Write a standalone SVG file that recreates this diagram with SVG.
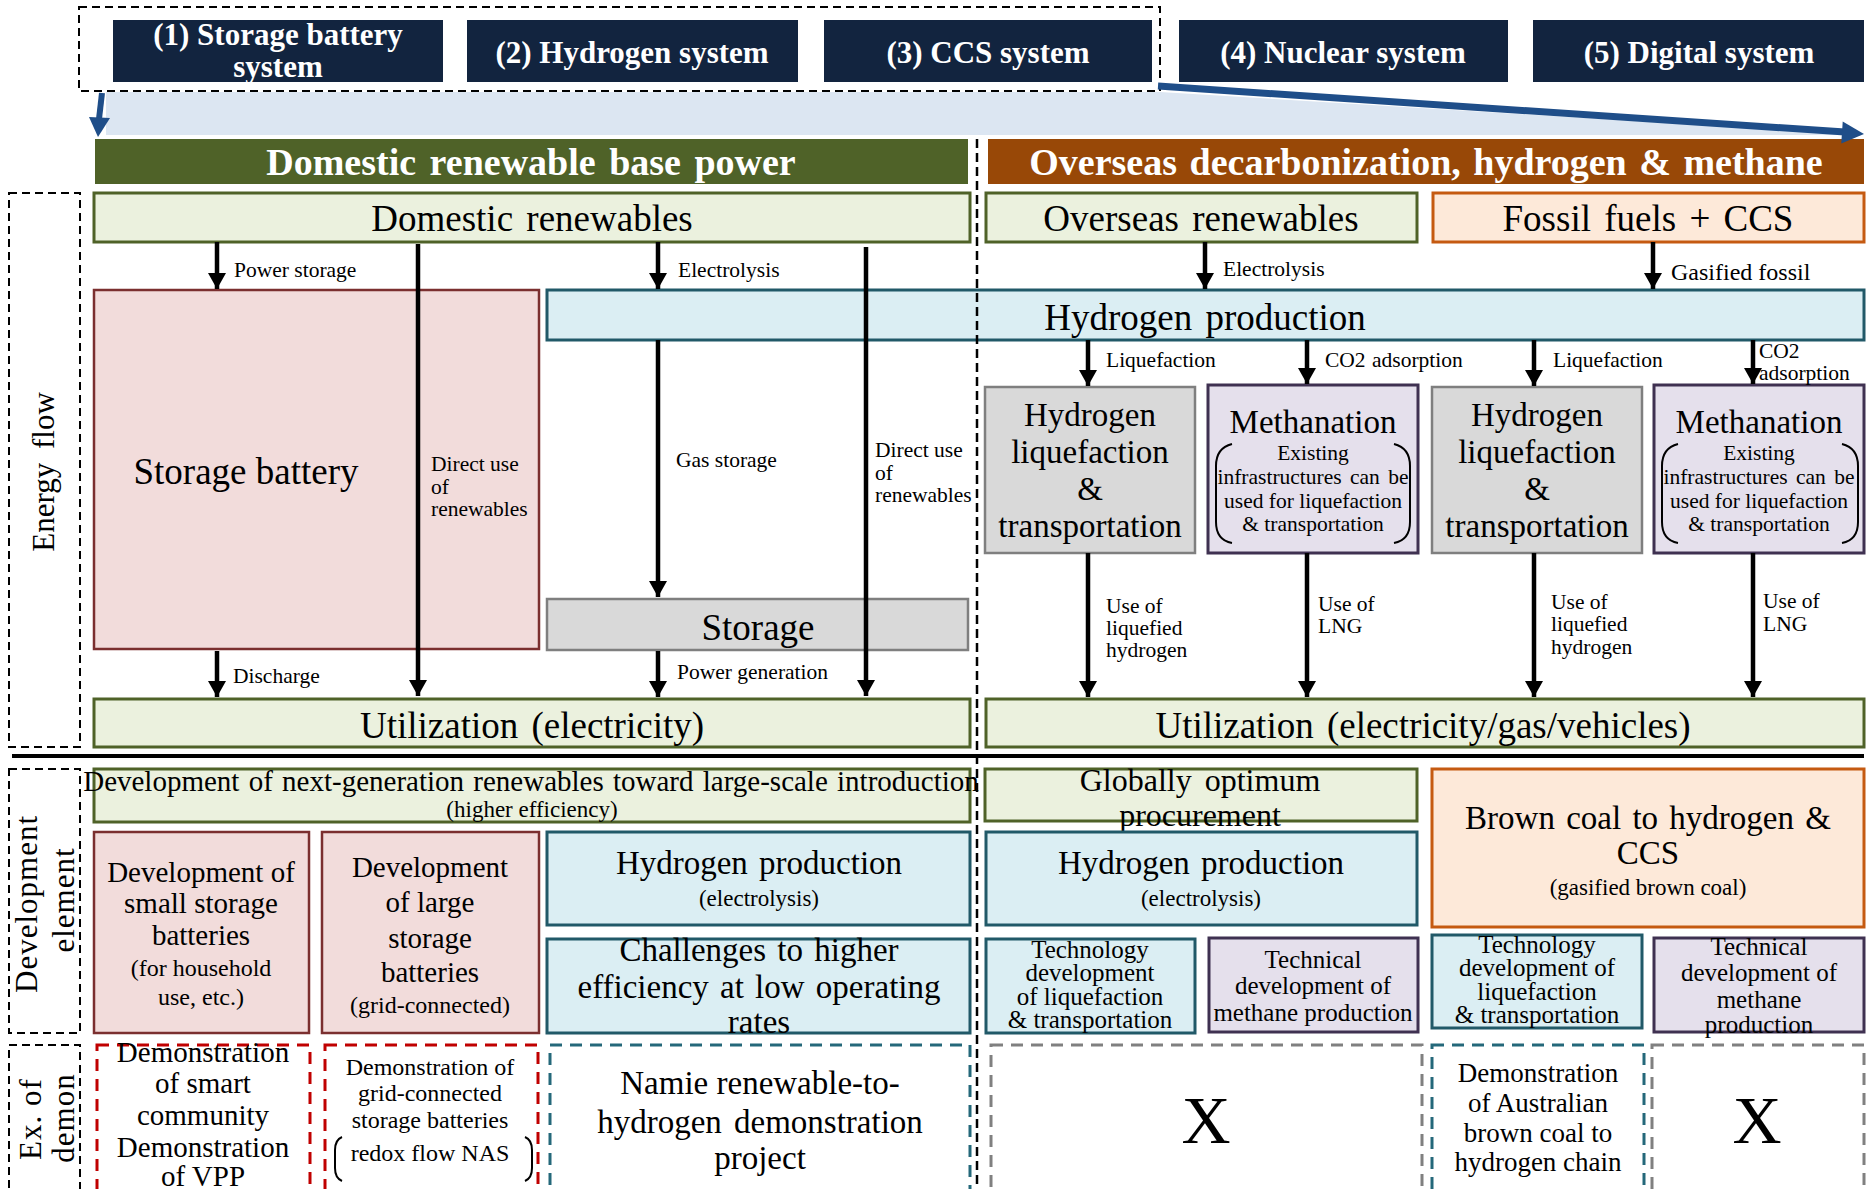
<svg xmlns="http://www.w3.org/2000/svg" width="1866" height="1189" viewBox="0 0 1866 1189">
<style>
text{font-family:"Liberation Serif","Times New Roman",serif;fill:#000}
.c{text-anchor:middle}
.hw{font-weight:bold;fill:#fff}
.navy{fill:#12243f}
.g{fill:#ebf1de;stroke:#4f6228;stroke-width:3}
.pk{fill:#f2dcdb;stroke:#7b2f2f;stroke-width:2.5}
.bl{fill:#dbeef3;stroke:#215968;stroke-width:3}
.gr{fill:#d9d9d9;stroke:#7f7f7f;stroke-width:2.5}
.pu{fill:#e5e0ec;stroke:#3f3151;stroke-width:3}
.or{fill:#fde9d9;stroke:#c55a11;stroke-width:3}
.dk{fill:none;stroke:#000;stroke-width:2;stroke-dasharray:8 5}
.dr{fill:none;stroke:#c00000;stroke-width:3;stroke-dasharray:12 8}
.dt{fill:none;stroke:#24687a;stroke-width:3;stroke-dasharray:12 8}
.dg{fill:none;stroke:#808080;stroke-width:3;stroke-dasharray:12 8}
.a{stroke:#000;stroke-width:4.5;fill:none;marker-end:url(#ah)}
.br{fill:none;stroke:#000;stroke-width:2}
.f21{font-size:21.5px}.f23{font-size:23px}.f24{font-size:24px}.f25{font-size:25px}.f27{font-size:27px}
.f29{font-size:29px}.f31{font-size:31px}.f33{font-size:33px}.f37{font-size:37px}
</style>
<defs>
<marker id="ah" viewBox="0 0 16 18" refX="16" refY="9" markerWidth="16" markerHeight="18" markerUnits="userSpaceOnUse" orient="auto">
<path d="M0,0 L16,9 L0,18 z" fill="#000"/>
</marker>
</defs>

<!-- top band and system boxes -->
<g id="band">
<polygon points="106,92 1160,92 1862,135 106,135" fill="#dce6f2"/>
</g>
<g id="systems">
<rect x="79" y="7" width="1081" height="84" class="dk"/>
<g id="sys1"><rect x="113" y="20" width="330" height="62" class="navy"/>
<text x="278" y="45" class="c hw" font-size="31">(1) Storage battery</text>
<text x="278" y="77" class="c hw" font-size="31">system</text></g>
<g id="sys2"><rect x="467" y="20" width="331" height="62" class="navy"/>
<text x="632" y="63" class="c hw" font-size="31">(2) Hydrogen system</text></g>
<g id="sys3"><rect x="824" y="20" width="328" height="62" class="navy"/>
<text x="988" y="63" class="c hw" font-size="31">(3) CCS system</text></g>
<g id="sys4"><rect x="1179" y="20" width="329" height="62" class="navy"/>
<text x="1343" y="63" class="c hw" font-size="31">(4) Nuclear system</text></g>
<g id="sys5"><rect x="1533" y="20" width="331" height="62" class="navy"/>
<text x="1699" y="63" class="c hw" font-size="31">(5) Digital system</text></g>
</g>
<g id="header-domestic"><rect x="95" y="139" width="873" height="45" fill="#4f6228"/>
<text x="531" y="175" class="c hw" font-size="38" word-spacing="4">Domestic renewable base power</text></g>
<g id="header-overseas"><rect x="988" y="139" width="876" height="45" fill="#984807"/>
<text x="1426" y="175" class="c hw" font-size="38" word-spacing="3">Overseas decarbonization, hydrogen &amp; methane</text></g>

<!-- energy flow -->
<g id="lbl-energy"><rect x="9" y="193" width="71" height="554" class="dk"/>
<text transform="translate(54,472) rotate(-90)" class="c f31" word-spacing="6">Energy flow</text></g>
<g id="domestic-renewables"><rect x="94" y="193" width="876" height="49" class="g"/>
<text x="532" y="231" class="c f37" word-spacing="4">Domestic renewables</text></g>
<g id="overseas-renewables"><rect x="986" y="193" width="431" height="49" class="g"/>
<text x="1201" y="231" class="c f37" word-spacing="4">Overseas renewables</text></g>
<g id="fossil-ccs"><rect x="1433" y="193" width="431" height="49" class="or"/>
<text x="1648" y="231" class="c f37" word-spacing="4">Fossil fuels + CCS</text></g>
<g id="storage-battery"><rect x="94" y="290" width="445" height="359" class="pk"/>
<text x="246" y="484" class="c f37">Storage battery</text></g>
<g id="hydrogen-production"><rect x="547" y="290" width="1317" height="50" class="bl"/>
<text x="1205" y="330" class="c f37" word-spacing="4">Hydrogen production</text></g>
<g id="storage"><rect x="547" y="599" width="421" height="51" class="gr"/>
<text x="758" y="640" class="c f37">Storage</text></g>
<g id="util-electricity"><rect x="94" y="699" width="876" height="48" class="g"/>
<text x="532" y="738" class="c f37" word-spacing="4">Utilization (electricity)</text></g>
<g id="util-all"><rect x="986" y="699" width="878" height="48" class="g"/>
<text x="1423" y="738" class="c f37" word-spacing="4">Utilization (electricity/gas/vehicles)</text></g>
<g id="h2liq1"><rect x="985" y="387" width="210" height="166" class="gr"/>
<text x="1090" y="426" class="c f33">Hydrogen</text><text x="1090" y="463" class="c f33">liquefaction</text>
<text x="1090" y="500" class="c f33">&amp;</text><text x="1090" y="537" class="c f33">transportation</text></g>
<g id="meth1"><rect x="1208" y="385" width="210" height="168" class="pu"/>
<text x="1313" y="433" class="c f33">Methanation</text>
<text x="1313" y="460" class="c f21">Existing</text><text x="1313" y="484" class="c f21" word-spacing="3">infrastructures can be</text>
<text x="1313" y="508" class="c f21">used for liquefaction</text><text x="1313" y="531" class="c f21">&amp; transportation</text>
<path class="br" d="M1232,444 Q1216,448 1216,466 L1216,522 Q1216,540 1232,543"/>
<path class="br" d="M1394,444 Q1410,448 1410,466 L1410,522 Q1410,540 1394,543"/></g>
<g id="h2liq2"><rect x="1432" y="387" width="210" height="166" class="gr"/>
<text x="1537" y="426" class="c f33">Hydrogen</text><text x="1537" y="463" class="c f33">liquefaction</text>
<text x="1537" y="500" class="c f33">&amp;</text><text x="1537" y="537" class="c f33">transportation</text></g>
<g id="meth2"><rect x="1654" y="385" width="210" height="168" class="pu"/>
<text x="1759" y="433" class="c f33">Methanation</text>
<text x="1759" y="460" class="c f21">Existing</text><text x="1759" y="484" class="c f21" word-spacing="3">infrastructures can be</text>
<text x="1759" y="508" class="c f21">used for liquefaction</text><text x="1759" y="531" class="c f21">&amp; transportation</text>
<path class="br" d="M1678,444 Q1662,448 1662,466 L1662,522 Q1662,540 1678,543"/>
<path class="br" d="M1842,444 Q1858,448 1858,466 L1858,522 Q1858,540 1842,543"/></g>

<!-- development elements -->
<g id="lbl-dev"><rect x="9" y="769" width="71" height="264" class="dk"/>
<text transform="translate(37,904) rotate(-90)" class="c f31" letter-spacing="1">Development</text>
<text transform="translate(74,900) rotate(-90)" class="c f31" letter-spacing="1">element</text></g>
<g id="dev-nextgen"><rect x="94" y="769" width="876" height="53" class="g"/>
<text x="531" y="791" class="c" font-size="29" word-spacing="2">Development of next-generation renewables toward large-scale introduction</text>
<text x="532" y="817" class="c f23">(higher efficiency)</text></g>
<g id="dev-small"><rect x="94" y="832" width="215" height="201" class="pk"/>
<text x="201" y="882" class="c f29">Development of</text><text x="201" y="913" class="c f29">small storage</text>
<text x="201" y="945" class="c f29">batteries</text><text x="201" y="976" class="c f24">(for household</text>
<text x="201" y="1005" class="c f24">use, etc.)</text></g>
<g id="dev-large"><rect x="322" y="832" width="217" height="201" class="pk"/>
<text x="430" y="877" class="c f29">Development</text><text x="430" y="912" class="c f29">of large</text>
<text x="430" y="948" class="c f29">storage</text><text x="430" y="982" class="c f29">batteries</text>
<text x="430" y="1013" class="c f24">(grid-connected)</text></g>
<g id="dev-h2prod"><rect x="547" y="832" width="423" height="93" class="bl"/>
<text x="759" y="874" class="c f33" word-spacing="3">Hydrogen production</text>
<text x="759" y="906" class="c f23">(electrolysis)</text></g>
<g id="dev-challenges"><rect x="547" y="939" width="423" height="94" class="bl"/>
<text x="759" y="961" class="c f33" word-spacing="3">Challenges to higher</text>
<text x="759" y="998" class="c f33" word-spacing="3">efficiency at low operating</text>
<text x="759" y="1033" class="c f33">rates</text></g>
<g id="dev-global"><rect x="985" y="769" width="432" height="52" class="g"/>
<text x="1200" y="791" class="c" font-size="32" word-spacing="5">Globally optimum</text>
<text x="1200" y="826" class="c" font-size="32">procurement</text></g>
<g id="dev-h2prod2"><rect x="986" y="832" width="431" height="93" class="bl"/>
<text x="1201" y="874" class="c f33" word-spacing="3">Hydrogen production</text>
<text x="1201" y="906" class="c f23">(electrolysis)</text></g>
<g id="dev-browncoal"><rect x="1432" y="769" width="432" height="158" class="or"/>
<text x="1648" y="829" class="c f33" word-spacing="3">Brown coal to hydrogen &amp;</text>
<text x="1648" y="864" class="c f33">CCS</text>
<text x="1648" y="895" class="c f23">(gasified brown coal)</text></g>
<g id="dev-liq1"><rect x="986" y="939" width="209" height="94" class="bl"/>
<text x="1090" y="958" class="c f25">Technology</text><text x="1090" y="981" class="c f25">development</text>
<text x="1090" y="1005" class="c f25">of liquefaction</text><text x="1090" y="1028" class="c f25">&amp; transportation</text></g>
<g id="dev-meth1"><rect x="1209" y="938" width="209" height="94" class="pu"/>
<text x="1313" y="968" class="c f25">Technical</text><text x="1313" y="994" class="c f25">development of</text>
<text x="1313" y="1021" class="c f25">methane production</text></g>
<g id="dev-liq2"><rect x="1432" y="935" width="210" height="93" class="bl"/>
<text x="1537" y="953" class="c f25">Technology</text><text x="1537" y="976" class="c f25">development of</text>
<text x="1537" y="1000" class="c f25">liquefaction</text><text x="1537" y="1023" class="c f25">&amp; transportation</text></g>
<g id="dev-meth2"><rect x="1654" y="938" width="210" height="94" class="pu"/>
<text x="1759" y="955" class="c f25">Technical</text><text x="1759" y="981" class="c f25">development of</text>
<text x="1759" y="1008" class="c f25">methane</text><text x="1759" y="1033" class="c f25">production</text></g>

<!-- demonstrations -->
<g id="lbl-demo"><rect x="9" y="1045" width="71" height="150" class="dk"/>
<text transform="translate(41,1119) rotate(-90)" class="c f31" letter-spacing="1">Ex. of</text>
<text transform="translate(74,1118) rotate(-90)" class="c f31" letter-spacing="1">demon</text></g>
<g id="demo-smart"><rect x="97" y="1045" width="213" height="150" class="dr"/>
<text x="203" y="1062" class="c f29">Demonstration</text><text x="203" y="1093" class="c f29">of smart</text>
<text x="203" y="1125" class="c f29">community</text><text x="203" y="1157" class="c f29">Demonstration</text>
<text x="203" y="1186" class="c f29">of VPP</text></g>
<g id="demo-grid"><rect x="325" y="1045" width="213" height="150" class="dr"/>
<text x="430" y="1075" class="c f24">Demonstration of</text><text x="430" y="1101" class="c f24">grid-connected</text>
<text x="430" y="1128" class="c f24">storage batteries</text><text x="430" y="1161" class="c f24">redox flow NAS</text>
<path class="br" d="M342,1137 Q335,1140 335,1150 L335,1168 Q335,1178 342,1181"/>
<path class="br" d="M525,1137 Q532,1140 532,1150 L532,1168 Q532,1178 525,1181"/></g>
<g id="demo-namie"><rect x="550" y="1045" width="420" height="150" class="dt"/>
<text x="760" y="1094" class="c f33">Namie renewable-to-</text>
<text x="760" y="1133" class="c f33" word-spacing="4">hydrogen demonstration</text>
<text x="760" y="1169" class="c f33">project</text></g>
<g id="demo-x1"><rect x="991" y="1045" width="431" height="150" class="dg"/>
<text x="1206" y="1143" class="c" font-size="68">X</text></g>
<g id="demo-australia"><rect x="1432" y="1045" width="212" height="150" class="dt"/>
<text x="1538" y="1082" class="c f27">Demonstration</text><text x="1538" y="1112" class="c f27">of Australian</text>
<text x="1538" y="1142" class="c f27">brown coal to</text><text x="1538" y="1171" class="c f27">hydrogen chain</text></g>
<g id="demo-x2"><rect x="1652" y="1045" width="212" height="150" class="dg"/>
<text x="1757" y="1143" class="c" font-size="68">X</text></g>

<!-- connectors -->
<g id="connectors">
<line x1="102" y1="93" x2="99" y2="119" stroke="#1f4e89" stroke-width="6"/>
<polygon points="89,117 110,118 98,137" fill="#1f4e89"/>
<line x1="1158" y1="86" x2="1845" y2="132" stroke="#1f4e89" stroke-width="7"/>
<polygon points="1864,134 1842.7,121.5 1841.3,143.5" fill="#1f4e89"/>
<line class="a" x1="217" y1="242" x2="217" y2="289"/>
<line class="a" x1="418" y1="244" x2="418" y2="696"/>
<line class="a" x1="658" y1="242" x2="658" y2="289"/>
<line class="a" x1="866" y1="247" x2="866" y2="696"/>
<line class="a" x1="658" y1="340" x2="658" y2="597"/>
<line class="a" x1="217" y1="651" x2="217" y2="697"/>
<line class="a" x1="658" y1="651" x2="658" y2="697"/>
<line class="a" x1="1205" y1="242" x2="1205" y2="289"/>
<line class="a" x1="1653" y1="242" x2="1653" y2="289"/>
<line class="a" x1="1088" y1="340" x2="1088" y2="386"/>
<line class="a" x1="1307" y1="340" x2="1307" y2="384"/>
<line class="a" x1="1534" y1="340" x2="1534" y2="386"/>
<line class="a" x1="1753" y1="340" x2="1753" y2="384"/>
<line class="a" x1="1088" y1="553" x2="1088" y2="697"/>
<line class="a" x1="1307" y1="553" x2="1307" y2="697"/>
<line class="a" x1="1534" y1="553" x2="1534" y2="697"/>
<line class="a" x1="1753" y1="553" x2="1753" y2="697"/>
<text x="234" y="277" class="f21" font-size="22">Power storage</text>
<text x="431" y="471" class="f21">Direct use</text><text x="431" y="494" class="f21">of</text><text x="431" y="516" class="f21">renewables</text>
<text x="678" y="277" class="f21">Electrolysis</text>
<text x="875" y="457" class="f21">Direct use</text><text x="875" y="480" class="f21">of</text><text x="875" y="502" class="f21">renewables</text>
<text x="676" y="467" class="f21">Gas storage</text>
<text x="233" y="683" class="f21">Discharge</text>
<text x="677" y="679" class="f21">Power generation</text>
<text x="1223" y="276" class="f21">Electrolysis</text>
<text x="1671" y="280" class="f24">Gasified fossil</text>
<text x="1106" y="367" class="f21">Liquefaction</text>
<text x="1325" y="367" class="f21" word-spacing="1">CO2 adsorption</text>
<text x="1553" y="367" class="f21">Liquefaction</text>
<text x="1759" y="358" class="f21">CO2</text><text x="1759" y="380" class="f21">adsorption</text>
<text x="1106" y="613" class="f21">Use of</text><text x="1106" y="635" class="f21">liquefied</text><text x="1106" y="657" class="f21">hydrogen</text>
<text x="1318" y="611" class="f21">Use of</text><text x="1318" y="633" class="f21">LNG</text>
<text x="1551" y="609" class="f21">Use of</text><text x="1551" y="631" class="f21">liquefied</text><text x="1551" y="654" class="f21">hydrogen</text>
<text x="1763" y="608" class="f21">Use of</text><text x="1763" y="631" class="f21">LNG</text>
</g>

<g id="dividers">
<line x1="977" y1="139" x2="977" y2="1189" stroke="#000" stroke-width="2.5" stroke-dasharray="9 5"/>
<line x1="12" y1="756" x2="1864" y2="756" stroke="#000" stroke-width="4"/>
</g>
</svg>
